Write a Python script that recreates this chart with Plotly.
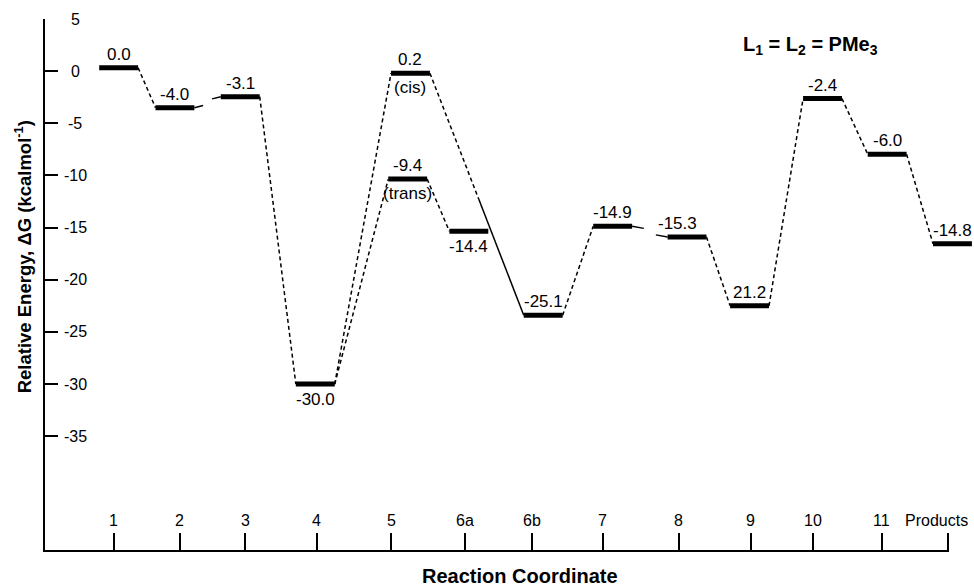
import plotly.graph_objects as go

# ---------------- data ----------------
level_names = ["1", "2", "3", "4", "5cis", "5trans", "6a", "6b", "7", "8", "9", "10", "11", "Products"]
# drawn level positions along reaction coordinate (axis units) and energy (as drawn)
level_x = [1.06, 1.87, 2.81, 3.89, 5.26, 5.22, 6.10, 7.17, 8.17, 9.24, 10.14, 11.19, 12.12, 13.06]
level_y = [0.32, -3.5, -2.45, -30.0, -0.2, -10.35, -15.35, -23.4, -14.87, -15.9, -22.5, -2.63, -7.96, -16.55]
level_text = ["0.0", "-4.0", "-3.1", "-30.0", "0.2", "-9.4", "-14.4", "-25.1", "-14.9", "-15.3", "21.2", "-2.4", "-6.0", "-14.8"]
label_below = ["4", "6a"]
sub_labels = {"5cis": "(cis)", "5trans": "(trans)"}

tick_labels = ["1", "2", "3", "4", "5", "6a", "6b", "7", "8", "9", "10", "11", "Products"]
tick_pos = [0.99, 1.94, 2.88, 3.91, 4.98, 6.04, 7.01, 8.03, 9.12, 10.16, 11.05, 12.04, 12.99]

y_ticks = [5, 0, -5, -10, -15, -20, -25, -30, -35]

# connections: (from, to, style)
connections = [
    ("1", "2", "dash"), ("2", "3", "broken"), ("3", "4", "dash"),
    ("4", "5cis", "dash"), ("4", "5trans", "dash"),
    ("5cis", "6b", "dashsolid"), ("5trans", "6a", "dash"),
    ("6b", "7", "dash"), ("7", "8", "broken"), ("8", "9", "dash"),
    ("9", "10", "dash"), ("10", "11", "dash"), ("11", "Products", "dash"),
]

# ---------------- styling ----------------
HW = 0.28          # half width of a level bar (axis units)
FONT = "Liberation Sans, Arial, Helvetica, sans-serif"
YMIN, YMAX = -46.1, 5.0
XMIN, XMAX = 0.0, 13.37
LBL = 17
label_xshift = {"8": -10}

idx = {n: i for i, n in enumerate(level_names)}

fig = go.Figure()

# level bars
bx, by = [], []
for x, y in zip(level_x, level_y):
    bx += [x - HW, x + HW, None]
    by += [y, y, None]
fig.add_trace(go.Scatter(x=bx, y=by, mode="lines", line=dict(color="black", width=5),
                         hoverinfo="skip", showlegend=False))

# connectors
dx, dy, sx, sy = [], [], [], []
for a, b, style in connections:
    x0, y0 = level_x[idx[a]] + HW, level_y[idx[a]]
    x1, y1 = level_x[idx[b]] - HW, level_y[idx[b]]
    if style == "dash":
        dx += [x0, x1, None]; dy += [y0, y1, None]
    elif style == "broken":
        f1, f2 = 0.33, 0.67
        sx += [x0, x0 + (x1 - x0) * f1, None, x0 + (x1 - x0) * f2, x1, None]
        sy += [y0, y0 + (y1 - y0) * f1 * 0.6, None, y1 - (y1 - y0) * (1 - f2) * 0.6, y1, None]
    elif style == "dashsolid":
        f = 0.52
        xm, ym = x0 + (x1 - x0) * f, y0 + (y1 - y0) * f
        dx += [x0, xm, None]; dy += [y0, ym, None]
        sx += [xm, x1, None]; sy += [ym, y1, None]

fig.add_trace(go.Scatter(x=dx, y=dy, mode="lines",
                         line=dict(color="black", width=1.5, dash="4px,3px"),
                         hoverinfo="skip", showlegend=False))
fig.add_trace(go.Scatter(x=sx, y=sy, mode="lines", line=dict(color="black", width=1.5),
                         hoverinfo="skip", showlegend=False))

# baseline of the x axis (ends at the Products tick)
fig.add_trace(go.Scatter(x=[XMIN, tick_pos[-1]], y=[-46.0, -46.0], mode="lines",
                         line=dict(color="black", width=2), hoverinfo="skip", showlegend=False))

annotations = []
for name, x, y, t in zip(level_names, level_x, level_y, level_text):
    if name in label_below:
        annotations.append(dict(x=x, y=y, text=t, showarrow=False, yanchor="top", yshift=-4,
                                font=dict(size=LBL, color="black", family=FONT)))
    else:
        annotations.append(dict(x=x, y=y, text=t, showarrow=False, yanchor="bottom", yshift=2,
                                xshift=label_xshift.get(name, 0),
                                font=dict(size=LBL, color="black", family=FONT)))
    if name in sub_labels:
        annotations.append(dict(x=x, y=y, text=sub_labels[name], showarrow=False, yanchor="top",
                                yshift=-3, font=dict(size=LBL, color="black", family=FONT)))

# tick labels drawn as text, inside the axes like the reference
for v in y_ticks:
    annotations.append(dict(xref="paper", x=0, y=v, text=str(v), showarrow=False,
                            xanchor="center", yanchor="middle", xshift=30,
                            font=dict(size=16, color="black", family=FONT)))
for p, t in zip(tick_pos, tick_labels):
    annotations.append(dict(x=p, yref="paper", y=0, text=t, showarrow=False,
                            xanchor="center", yanchor="middle", yshift=32,
                            xshift=(-11 if t == "Products" else 0),
                            font=dict(size=16, color="black", family=FONT)))

annotations += [
    dict(xref="paper", yref="paper", x=-0.0236, y=0.553, textangle=-90, showarrow=False,
         text="<b>Relative Energy, ΔG (kcalmol<sup>-1</sup>)</b>", xanchor="center", yanchor="middle",
         font=dict(size=18.5, color="black", family=FONT)),
    dict(xref="paper", yref="paper", x=0.511, y=-0.045, showarrow=False,
         text="<b>Reaction Coordinate</b>", xanchor="center", yanchor="middle",
         font=dict(size=20, color="black", family=FONT)),
    dict(xref="paper", yref="paper", x=0.8245, y=0.951, showarrow=False,
         text="<b>L<sub>1</sub> = L<sub>2</sub> = PMe<sub>3</sub></b>", xanchor="center", yanchor="middle",
         font=dict(size=20, color="black", family=FONT)),
]

fig.update_layout(
    width=974, height=586,
    margin=dict(l=45, r=0, t=19, b=34),
    paper_bgcolor="white", plot_bgcolor="white",
    annotations=annotations,
    font=dict(family=FONT, color="black"),
    xaxis=dict(range=[XMIN, XMAX], tickvals=tick_pos, showticklabels=False,
               ticks="inside", ticklen=19, tickwidth=2, tickcolor="black",
               showline=False, showgrid=False, zeroline=False),
    yaxis=dict(range=[YMIN, YMAX], tickvals=y_ticks, showticklabels=False,
               ticks="inside", ticklen=13, tickwidth=2, tickcolor="black",
               showline=True, linewidth=2, linecolor="black", showgrid=False, zeroline=False),
)

fig.write_html("out.html")
